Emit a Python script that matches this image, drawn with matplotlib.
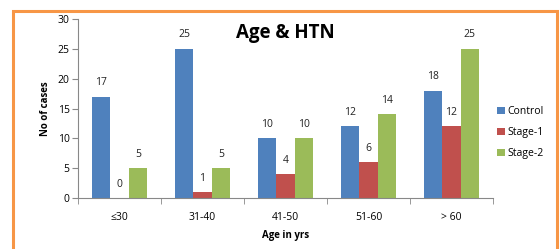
import matplotlib
matplotlib.use("Agg")
import matplotlib.pyplot as plt
import numpy as np
from matplotlib.patches import Rectangle

categories = ["\u226430", "31-40", "41-50", "51-60", "> 60"]
control = [17, 25, 10, 12, 18]
stage1 = [0, 1, 4, 6, 12]
stage2 = [5, 5, 10, 14, 25]
series_names = ["Control", "Stage-1", "Stage-2"]
colors = ["#4F81BD", "#C0504D", "#9BBB59"]

plt.rcParams['font.family'] = ['Open Sans', 'DejaVu Sans']

fig = plt.figure(figsize=(5.6, 2.49), dpi=100)
fig.patch.set_facecolor("white")
ax = fig.add_axes([78/560, 1-198/249, (493-78)/560, (198-19)/249])

x = np.arange(len(categories))
w = 0.222
for i, (vals, name, c) in enumerate(zip([control, stage1, stage2], series_names, colors)):
    pos = x + (i-1)*w
    bars = ax.bar(pos, vals, width=w, color=c, label=name, zorder=2)
    for p, v in zip(pos, vals):
        ax.text(p, v + 1.4, str(v), ha='center', va='bottom', fontsize=7.5, color='#222222')

ax.set_xlim(-0.5, len(categories)-0.5)
ax.set_ylim(0, 30)
ax.set_yticks(range(0, 31, 5))
ax.set_xticks(x)
ax.set_xticklabels(categories, fontsize=7.5)
ax.set_xticks(np.arange(-0.5, len(categories), 1), minor=True)
ax.tick_params(axis='x', which='major', length=0, pad=10)
ax.tick_params(axis='x', which='minor', length=4, color='#888888', direction='out')
ax.tick_params(axis='y', labelsize=7.5, length=4, color='#888888', pad=2)
for s in ['top', 'right']:
    ax.spines[s].set_visible(False)
for s in ['left', 'bottom']:
    ax.spines[s].set_color('#888888')
    ax.spines[s].set_linewidth(0.8)

ax.set_ylabel("No of cases", fontsize=7, fontweight='bold', labelpad=5)
ax.set_xlabel("Age in yrs", fontsize=7, fontweight='bold', labelpad=5)

fig.text(285/560, 1-33/249, "Age & HTN", ha='center', va='center', fontsize=13.5, fontweight='bold')

leg = ax.legend(loc='upper left', bbox_to_anchor=(488/560, 1-97/249), bbox_transform=fig.transFigure,
                frameon=False, fontsize=7.5, handlelength=0.7, handleheight=0.7,
                labelspacing=0.95, handletextpad=0.3)

fig.patches.append(Rectangle((12.5/560, -0.05), (556.5-12.5)/560, 1.05 - 11/249,
                             transform=fig.transFigure, fill=False, edgecolor='#F79646',
                             linewidth=2.2, zorder=10))

fig.savefig("out.png", dpi=100)
